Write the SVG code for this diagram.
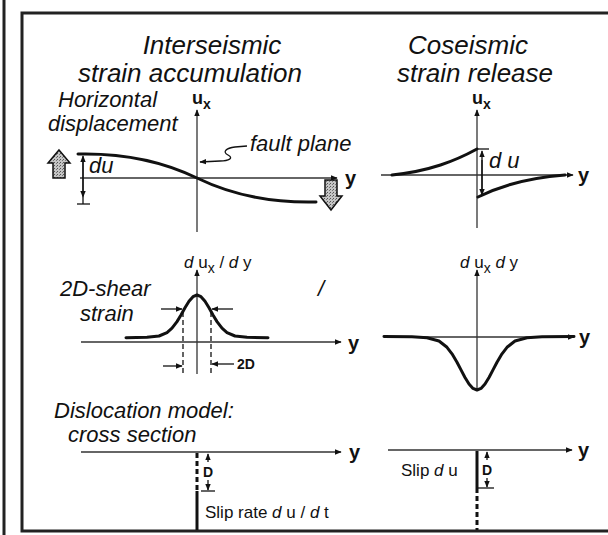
<svg xmlns="http://www.w3.org/2000/svg" width="608" height="535" viewBox="0 0 608 535">
<defs>
<marker id="ah" viewBox="0 0 10 10" refX="9" refY="5" markerWidth="7" markerHeight="7" markerUnits="userSpaceOnUse" orient="auto">
<path d="M0,1 L10,5 L0,9 z" fill="#111"/>
</marker>
<pattern id="stip" width="3" height="3" patternUnits="userSpaceOnUse">
<rect width="3" height="3" fill="#c4c4c4"/>
<rect x="0" y="0" width="1" height="1" fill="#555"/>
<rect x="2" y="1" width="1" height="1" fill="#777"/>
</pattern>
<style>
text{font-family:"Liberation Sans",Arial,sans-serif;fill:#111}
.title{font-size:26px;font-style:italic;text-anchor:middle}
.lab{font-size:22px;font-style:italic}
.axa{stroke:#333;stroke-width:1.3;fill:none;marker-end:url(#ah)}
.crv{stroke:#111;stroke-width:3;fill:none;stroke-linejoin:round;stroke-linecap:round}
.thin{stroke:#111;stroke-width:1.3;fill:none}
.dash{stroke:#111;stroke-width:1.3;fill:none;stroke-dasharray:5 3}
.fault{stroke:#111;stroke-width:3;fill:none}
.faultd{stroke:#111;stroke-width:3;fill:none;stroke-dasharray:5 3}
.ylab{font-size:20px;font-weight:bold}
.ux{font-size:18px;font-weight:bold}
.sm{font-size:17px}
.it{font-style:italic}
.gray{fill:url(#stip);stroke:#111;stroke-width:1.5;stroke-linejoin:miter}
</style>
</defs>
<rect width="608" height="535" fill="#fff"/>
<g id="frame">
<line x1="4" y1="0" x2="4" y2="535" stroke="#222" stroke-width="3"/>
<path d="M608,13 H22 V531 H608" fill="none" stroke="#222" stroke-width="3"/>
</g>
<g id="titles">
<text class="title" x="212" y="54">Interseismic</text>
<text class="title" x="190" y="82">strain accumulation</text>
<text class="title" x="468" y="54">Coseismic</text>
<text class="title" x="475" y="82">strain release</text>
</g>
<g id="connectors">
<line class="axa" x1="197" y1="232" x2="197" y2="110"/>
<line class="axa" x1="80" y1="178" x2="337" y2="178"/>
<line class="axa" x1="477" y1="228" x2="477" y2="110"/>
<line class="axa" x1="381" y1="175" x2="573" y2="175"/>
<line class="axa" x1="197" y1="374" x2="197" y2="270"/>
<line class="axa" x1="81" y1="342" x2="341" y2="342"/>
<line class="axa" x1="477" y1="390" x2="477" y2="270"/>
<line class="axa" x1="384" y1="337" x2="574" y2="337"/>
<line class="axa" x1="81" y1="452" x2="341" y2="452"/>
<line class="axa" x1="388" y1="450" x2="572" y2="450"/>
</g>
<g id="horizontal-displacement">
<text class="lab" x="58" y="107">Horizontal</text>
<text class="lab" x="48" y="131">displacement</text>
<text class="ux" x="192" y="104">u<tspan dy="5" font-size="14">x</tspan></text>
<path class="crv" d="M78,154 C120,153 160,160 197,178 C234,196 274,203 316,202"/>
<line class="thin" x1="83" y1="196" x2="83" y2="156" marker-end="url(#ah)"/>
<line class="thin" x1="83" y1="160" x2="83" y2="197" marker-end="url(#ah)"/>
<line class="thin" x1="83" y1="197" x2="83" y2="204"/>
<line class="thin" x1="77" y1="204" x2="90" y2="204"/>
<text class="lab" x="89" y="173" font-size="19">du</text>
<polygon class="gray" points="59,150 70,163 65,163 65,178 53,178 53,163 48,163"/>
<polygon class="gray" points="331,210 342,196 337,196 337,180 325,180 325,196 320,196"/>
<text class="ylab" x="345" y="185">y</text>
<text class="lab" x="250" y="151" font-size="16">fault plane</text>
<path class="thin" d="M247,146 L235,147 C226,148 222,152 228,155 C234,158 229,161 220,161 L200,162" marker-end="url(#ah)"/>
</g>
<g id="coseismic-displacement">
<text class="ux" x="472" y="104">u<tspan dy="5" font-size="14">x</tspan></text>
<path class="crv" d="M392,175 C430,171 455,161 477,149"/>
<line class="thin" x1="477" y1="149" x2="489" y2="149"/>
<line class="thin" x1="482" y1="190" x2="482" y2="151" marker-end="url(#ah)"/>
<line class="thin" x1="482" y1="160" x2="482" y2="195" marker-end="url(#ah)"/>
<text class="lab" x="489" y="168" font-size="19">d u</text>
<path class="crv" d="M478,197 C500,186 525,178 565,175"/>
<text class="ylab" x="578" y="182">y</text>
</g>
<g id="shear-strain">
<text class="sm" x="184" y="268" font-size="19"><tspan class="it">d</tspan> u<tspan dy="5" font-size="14">x</tspan><tspan dy="-5"> / </tspan><tspan class="it">d</tspan> y</text>
<text class="lab" x="60" y="296" font-size="21">2D-shear</text>
<text class="lab" x="80" y="321" font-size="21">strain</text>
<text class="lab" x="318" y="296" font-size="16">/</text>
<path class="crv" d="M126,337.7 L147,337.3 L159,336 L167,332.6 L172,328.2 L177,321.6 L181,315 L185,307.8 L189,301.3 L193,296.7 L197,295 L201,296.7 L205,301.3 L209,307.8 L213,315 L217,321.6 L222,328.2 L227,332.6 L235,336 L247,337.3 L268,337.7"/>
<line class="dash" x1="183" y1="312" x2="183" y2="374"/>
<line class="dash" x1="211" y1="312" x2="211" y2="374"/>
<line class="thin" x1="161" y1="309" x2="182" y2="309" marker-end="url(#ah)"/>
<line class="thin" x1="233" y1="309" x2="212" y2="309" marker-end="url(#ah)"/>
<line class="thin" x1="163" y1="366" x2="182" y2="366" marker-end="url(#ah)"/>
<line class="thin" x1="234" y1="364" x2="212" y2="364" marker-end="url(#ah)"/>
<text x="237" y="369" font-size="14" font-weight="bold">2D</text>
<text class="ylab" x="348" y="350">y</text>
</g>
<g id="coseismic-strain">
<text class="sm" x="460" y="268" font-size="19"><tspan class="it">d</tspan> u<tspan dy="5" font-size="14">x</tspan><tspan dy="-5">  </tspan><tspan class="it">d</tspan> y</text>
<path class="crv" d="M384,336.4 L412,336.8 L427,337.7 L439,341 L447,347.3 L452,353.8 L457,362.2 L461,369.9 L465,377.5 L469,384 L473,388.4 L477,390 L481,388.4 L485,384 L489,377.5 L493,369.9 L497,362.2 L502,353.8 L507,347.3 L515,341 L527,337.7 L542,336.8 L574,336.4"/>
<text class="ylab" x="579" y="344">y</text>
</g>
<g id="dislocation-interseismic">
<text class="lab" x="54" y="418" font-size="23">Dislocation model:</text>
<text class="lab" x="68" y="442" font-size="23">cross section</text>
<text class="ylab" x="349" y="459">y</text>
<line class="faultd" x1="197" y1="453" x2="197" y2="491"/>
<line class="fault" x1="197" y1="491" x2="197" y2="530"/>
<line class="thin" x1="208" y1="462" x2="208" y2="454" marker-end="url(#ah)"/>
<line class="thin" x1="208" y1="480" x2="208" y2="490" marker-end="url(#ah)"/>
<line class="thin" x1="201" y1="491" x2="215" y2="491"/>
<text x="203" y="477" font-size="14" font-weight="bold">D</text>
<text class="sm" x="205" y="518">Slip rate <tspan class="it">d</tspan> u / <tspan class="it">d</tspan> t</text>
</g>
<g id="dislocation-coseismic">
<text class="ylab" x="578" y="457">y</text>
<line class="fault" x1="477" y1="451" x2="477" y2="488"/>
<line class="faultd" x1="477" y1="488" x2="477" y2="530"/>
<line class="thin" x1="487" y1="460" x2="487" y2="452" marker-end="url(#ah)"/>
<line class="thin" x1="487" y1="478" x2="487" y2="487" marker-end="url(#ah)"/>
<line class="thin" x1="477" y1="488" x2="494" y2="488"/>
<text x="482" y="475" font-size="14" font-weight="bold">D</text>
<text class="sm" x="401" y="476">Slip <tspan class="it">d</tspan> u</text>
</g>
</svg>
